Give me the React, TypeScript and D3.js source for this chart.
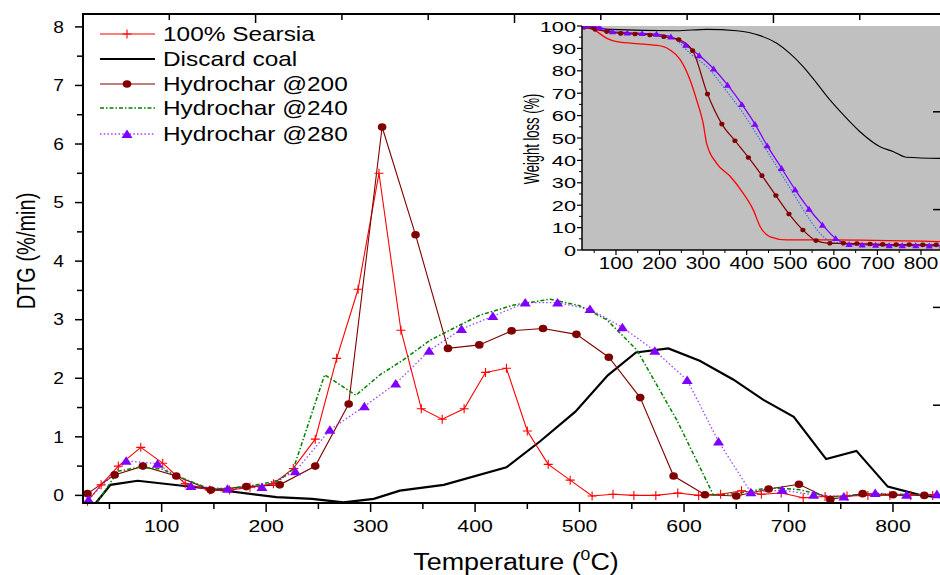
import React from "react";
import * as d3 from "d3";

// ---------- Main DTG data ----------
const searsiaT = [29, 42, 58.5, 80, 101, 122.5, 146, 165, 184.5, 207, 226, 247, 267.5, 288, 308, 329, 348.5, 368.5, 389.5, 410, 430, 450, 470, 491, 512, 532, 552, 573, 594, 614, 635, 655, 674, 693, 714, 735, 756, 776, 797, 817, 838];
const searsiaV = [-0.1, 0.18, 0.5, 0.82, 0.55, 0.2, 0.09, 0.09, 0.14, 0.2, 0.46, 0.96, 2.34, 3.52, 5.5, 2.82, 1.48, 1.3, 1.48, 2.1, 2.17, 1.1, 0.53, 0.26, -0.01, 0.02, 0.0, 0.0, 0.04, 0.0, 0.02, 0.08, 0.02, 0.04, -0.04, -0.02, -0.01, 0.0, 0.0, 0.0, 0.0];

const coalT = [37, 51, 77, 150, 210, 244, 274, 303, 328, 370, 430, 462, 496, 527, 554, 585, 615, 647, 676, 705, 736, 765, 795, 827, 845];
const coalV = [-0.13, 0.18, 0.25, 0.105, -0.03, -0.06, -0.12, -0.06, 0.08, 0.18, 0.48, 0.92, 1.43, 2.05, 2.44, 2.51, 2.3, 1.98, 1.63, 1.34, 0.62, 0.76, 0.15, 0.0, -0.03];

const h200T = [29, 55, 82, 114, 147, 181, 213, 247, 279, 311, 343, 374, 404, 435, 465, 497, 528, 558, 590, 620, 650, 681, 710, 740, 771, 800, 830];
const h200V = [0.03, 0.35, 0.5, 0.33, 0.09, 0.15, 0.18, 0.5, 1.56, 6.29, 4.45, 2.51, 2.57, 2.81, 2.85, 2.75, 2.36, 1.67, 0.33, 0.01, -0.01, 0.11, 0.19, -0.07, 0.03, 0.01, 0.0];

const h240T = [38, 58, 78, 100, 115, 147, 180, 200, 213, 226, 256, 286, 309, 331, 357, 389, 405, 437, 472, 500, 526, 555, 593, 628, 650, 681, 710, 740, 770, 800, 830, 845];
const h240V = [-0.13, 0.41, 0.48, 0.45, 0.33, 0.1, 0.15, 0.21, 0.26, 0.45, 2.06, 1.71, 2.06, 2.31, 2.65, 2.94, 3.08, 3.25, 3.35, 3.24, 3.0, 2.48, 1.29, 0.01, 0.03, 0.13, 0.1, -0.03, 0.02, 0.02, 0.01, 0.01];

const h280T = [30, 66, 96, 128, 163, 196, 228, 261, 294, 324, 356, 387, 417, 448, 479, 510, 541, 572, 603, 633, 664, 694, 724, 753, 783, 813, 842];
const h280V = [-0.07, 0.59, 0.54, 0.16, 0.11, 0.14, 0.41, 1.12, 1.52, 1.91, 2.47, 2.84, 3.06, 3.29, 3.29, 3.18, 2.87, 2.47, 1.97, 0.92, 0.05, 0.09, 0.01, -0.02, 0.04, 0.01, 0.02];

// ---------- Inset TG data ----------
const inSearsiaT = [23, 48, 79, 102, 163, 209, 224, 247, 270, 285, 300, 308, 331, 362, 392, 415, 431, 454, 492, 584, 845];
const inSearsiaW = [100, 98.5, 94.5, 93, 91.9, 90.8, 89.3, 85.1, 75.9, 67, 56.6, 47.6, 38.7, 32.9, 25.3, 17.9, 10.4, 5.9, 4.5, 4.5, 3.7];

const inCoalT = [23, 86, 239, 308, 377, 431, 469, 499, 530, 561, 591, 622, 660, 706, 737, 767, 845];
const inCoalW = [100, 98.5, 97.9, 98.5, 97.9, 95.7, 92.3, 87.8, 81.8, 74.4, 67, 60.3, 52.8, 46.1, 43.9, 41.4, 40.9];

const in200T = [27, 52, 79, 111, 144, 178, 210, 244, 276, 310, 343, 373, 404, 435, 467, 497, 529, 559, 591, 622, 653, 683, 712, 743, 773, 804, 835];
const in200W = [99.4, 98.5, 97.5, 96.7, 96.4, 96, 95.2, 94, 89, 69.6, 56.2, 48.8, 41.3, 33.2, 24.3, 16.1, 8.9, 4.2, 3.0, 3.0, 2.9, 2.7, 2.5, 2.4, 2.4, 2.3, 2.3];

const in240T = [23, 80, 150, 200, 232, 270, 316, 346, 392, 431, 469, 507, 545, 576, 607, 650, 700, 760, 845];
const in240W = [100, 97.5, 96.5, 96, 94.5, 87.8, 80.4, 72.9, 61, 49.1, 37.2, 25.3, 13.4, 5.9, 3.3, 2.7, 2.4, 2.2, 2.1];

const in280T = [27, 62, 92, 126, 160, 193, 226, 260, 291, 324, 356, 389, 419, 447, 480, 511, 543, 574, 604, 635, 665, 696, 727, 757, 788, 819, 849];
const in280W = [100, 99.4, 97.5, 97, 96.7, 96.4, 95.2, 91.5, 86.8, 80.9, 73.7, 65, 56.2, 46.6, 36.5, 27, 18.3, 11.2, 5.2, 2.5, 2.3, 2.2, 2.0, 2.0, 2.0, 1.9, 1.9];

// ---------- Ticks / labels ----------
const xTickLabels = [100, 200, 300, 400, 500, 600, 700, 800];
const xMinorTicks = [50, 150, 250, 350, 450, 550, 650, 750];
const yTickLabels = [0, 1, 2, 3, 4, 5, 6, 7, 8];
const yMinorTicks = [0.5, 1.5, 2.5, 3.5, 4.5, 5.5, 6.5, 7.5];
const insetXTicks = [100, 200, 300, 400, 500, 600, 700, 800];
const insetYTicks = [0, 10, 20, 30, 40, 50, 60, 70, 80, 90, 100];
const topTicks = [1, 2, 3, 4, 5, 6, 7, 8, 9];
const rightTicks = [1, 2, 3, 4];

const legendLabels = ["100% Searsia", "Discard coal", "Hydrochar @200", "Hydrochar @240", "Hydrochar @280"];

const RED = "#ff0000";
const DARK = "#800000";
const GREEN = "#008000";
const PURPLE = "#8000ff";
const BLUE = "#3366ff";
const FONT = "'Liberation Sans', Arial, sans-serif";

const zip = (a: number[], b: number[]) => a.map((t, i) => [t, b[i]] as [number, number]);

const xMain = d3.scaleLinear().domain([24.7, 845]).range([83, 940]);
const yMain = d3.scaleLinear().domain([-0.13, 8.22]).range([503, 14]);
const xIn = d3.scaleLinear().domain([22, 843.6]).range([582, 940]);
const yIn = d3.scaleLinear().domain([0, 100]).range([250, 26]);
const topScale = d3.scaleLinear().domain([0, 9.93]).range([83, 940]);
const rightScale = d3.scaleLinear().domain([0, 5]).range([503, 14]);

const mainLine = d3.line<[number, number]>().x((d) => xMain(d[0])).y((d) => yMain(d[1]));
const inLine = d3
  .line<[number, number]>()
  .x((d) => xIn(d[0]))
  .y((d) => yIn(d[1]))
  .curve(d3.curveMonotoneX);

function ST(props: any) {
  const { x, y, sx = 1.22, anchor = "start", size = 16, rotate, children } = props;
  const tr = `translate(${x},${y}) scale(${sx},1)` + (rotate ? ` rotate(${rotate})` : "");
  return (
    <text transform={tr} textAnchor={anchor} fontSize={size} fontFamily={FONT} fill="#000">
      {children}
    </text>
  );
}

const Plus = ({ x, y, s = 4.5 }: any) => (
  <path d={`M${x - s},${y}H${x + s}M${x},${y - s}V${y + s}`} stroke={RED} strokeWidth={1.1} fill="none" />
);
const Dot = ({ x, y, rx = 4.3, ry = 3.8 }: any) => <ellipse cx={x} cy={y} rx={rx} ry={ry} fill={DARK} />;
const Tri = ({ x, y, w = 5.5, h = 4.6 }: any) => (
  <path d={`M${x},${y - h}L${x + w},${y + h * 0.85}L${x - w},${y + h * 0.85}Z`} fill={PURPLE} />
);

export default function App() {
  const sears = zip(searsiaT, searsiaV);
  const coal = zip(coalT, coalV);
  const h200 = zip(h200T, h200V);
  const h240 = zip(h240T, h240V);
  const h280 = zip(h280T, h280V);

  const legendRows = [34, 59, 84, 108, 134];

  return (
    <svg
      width={940}
      height={575}
      style={{ position: "absolute", left: 0, top: 0, background: "#fff" }}
    >
      <defs>
        <clipPath id="mainClip">
          <rect x={83} y={14} width={857} height={489} />
        </clipPath>
        <clipPath id="insetClip">
          <rect x={582} y={26} width={358} height={224} />
        </clipPath>
      </defs>
      <rect x={0} y={0} width={940} height={575} fill="#fff" />

      {/* Main series */}
      <g clipPath="url(#mainClip)" fill="none">
        <path d={mainLine(coal) || ""} stroke="#000" strokeWidth={2.2} />
        <path d={mainLine(sears) || ""} stroke={RED} strokeWidth={1.1} />
        <path d={mainLine(h200) || ""} stroke={DARK} strokeWidth={1.1} />
        <path d={mainLine(h240) || ""} stroke={GREEN} strokeWidth={1.5} strokeDasharray="4,2,1.5,2" />
        <path d={mainLine(h280) || ""} stroke={PURPLE} strokeWidth={1.3} strokeDasharray="1.5,2.2" opacity={0.75} />
      </g>
      <g>
        {sears.map((d, i) => (
          <Plus key={"s" + i} x={xMain(d[0])} y={yMain(d[1])} />
        ))}
        {h200.map((d, i) => (
          <Dot key={"c" + i} x={xMain(d[0])} y={yMain(d[1])} />
        ))}
        {h280.map((d, i) => (
          <Tri key={"t" + i} x={xMain(d[0])} y={yMain(d[1])} />
        ))}
      </g>

      {/* Inset */}
      <rect x={582} y={26} width={358} height={224} fill="#c0c0c0" />
      <g clipPath="url(#insetClip)" fill="none">
        <path d={inLine(zip(inCoalT, inCoalW)) || ""} stroke="#000" strokeWidth={1.1} />
        <path d={inLine(zip(inSearsiaT, inSearsiaW)) || ""} stroke={RED} strokeWidth={1.3} />
        <path d={inLine(zip(in240T, in240W)) || ""} stroke={BLUE} strokeWidth={1.1} strokeDasharray="1.5,1.5" />
        <path d={inLine(zip(in280T, in280W)) || ""} stroke={PURPLE} strokeWidth={1.3} />
        <path d={inLine(zip(in200T, in200W)) || ""} stroke={DARK} strokeWidth={1.2} />
        {zip(in200T, in200W).map((d, i) => (
          <Dot key={"ic" + i} x={xIn(d[0])} y={yIn(d[1])} rx={2.6} ry={2.3} />
        ))}
        {zip(in280T, in280W).map((d, i) => (
          <Tri key={"it" + i} x={xIn(d[0])} y={yIn(d[1])} w={3.6} h={3.2} />
        ))}
      </g>
      {/* Inset axes */}
      <line x1={582} y1={26} x2={582} y2={250} stroke="#000" strokeWidth={1.5} />
      <line x1={582} y1={250} x2={940} y2={250} stroke="#000" strokeWidth={1.5} />
      {insetYTicks.map((v) => (
        <g key={"iy" + v}>
          <line x1={577} x2={582} y1={yIn(v)} y2={yIn(v)} stroke="#000" strokeWidth={1.2} />
          {v < 100 && (
            <line x1={579} x2={582} y1={yIn(v + 5)} y2={yIn(v + 5)} stroke="#000" strokeWidth={1} />
          )}
          <ST x={576} y={yIn(v) + 5.5} anchor="end" size={15} sx={1.45}>
            {v}
          </ST>
        </g>
      ))}
      {insetXTicks.map((v) => (
        <g key={"ix" + v}>
          <line x1={xIn(v)} x2={xIn(v)} y1={250} y2={255} stroke="#000" strokeWidth={1.2} />
          <line x1={xIn(v - 50)} x2={xIn(v - 50)} y1={250} y2={253} stroke="#000" strokeWidth={1} />
          <ST x={xIn(v)} y={269} anchor="middle" size={17} sx={1.22}>
            {v}
          </ST>
        </g>
      ))}
      <ST x={539} y={139} anchor="middle" size={13} sx={1.7} rotate={-90}>
        Weight loss (%)
      </ST>

      {/* Main axes */}
      <line x1={83} y1={13} x2={83} y2={504} stroke="#000" strokeWidth={2} />
      <line x1={82} y1={503} x2={940} y2={503} stroke="#000" strokeWidth={2} />
      <line x1={82} y1={14} x2={940} y2={14} stroke="#000" strokeWidth={2} />
      {topTicks.map((v) => (
        <line key={"tt" + v} x1={topScale(v)} x2={topScale(v)} y1={14} y2={v % 3 === 2 ? 23 : 20} stroke="#000" strokeWidth={1.5} />
      ))}
      {rightTicks.map((v) => (
        <line key={"rt" + v} x1={933} x2={940} y1={rightScale(v)} y2={rightScale(v)} stroke="#000" strokeWidth={1.5} />
      ))}
      {yTickLabels.map((v) => (
        <g key={"y" + v}>
          <line x1={75} x2={83} y1={yMain(v)} y2={yMain(v)} stroke="#000" strokeWidth={1.5} />
          <ST x={64} y={yMain(v) + 5.8} anchor="end" size={16} sx={1.2}>
            {v}
          </ST>
        </g>
      ))}
      {yMinorTicks.map((v) => (
        <line key={"ym" + v} x1={77} x2={83} y1={yMain(v)} y2={yMain(v)} stroke="#000" strokeWidth={1.5} />
      ))}
      {xTickLabels.map((v) => (
        <g key={"x" + v}>
          <line x1={xMain(v)} x2={xMain(v)} y1={503} y2={512} stroke="#000" strokeWidth={1.5} />
          <ST x={xMain(v)} y={532} anchor="middle" size={17} sx={1.25}>
            {v}
          </ST>
        </g>
      ))}
      {xMinorTicks.map((v) => (
        <line key={"xm" + v} x1={xMain(v)} x2={xMain(v)} y1={503} y2={509} stroke="#000" strokeWidth={1.5} />
      ))}

      {/* Axis titles */}
      <text transform="translate(516,570) scale(1.17,1)" textAnchor="middle" fontSize={23} fontFamily={FONT}>
        Temperature (
        <tspan fontSize={15} dy={-10}>
          0
        </tspan>
        <tspan dy={10}>C)</tspan>
      </text>
      <ST x={35} y={251} anchor="middle" size={20} sx={1.3} rotate={-90}>
        DTG (%/min)
      </ST>

      {/* Legend */}
      <g>
        <line x1={100} x2={155} y1={legendRows[0]} y2={legendRows[0]} stroke={RED} strokeWidth={1.1} />
        <Plus x={127} y={legendRows[0]} />
        <line x1={100} x2={155} y1={legendRows[1]} y2={legendRows[1]} stroke="#000" strokeWidth={2} />
        <line x1={100} x2={155} y1={legendRows[2]} y2={legendRows[2]} stroke={DARK} strokeWidth={1.1} />
        <Dot x={127} y={legendRows[2]} />
        <line x1={100} x2={155} y1={legendRows[3]} y2={legendRows[3]} stroke={GREEN} strokeWidth={1.5} strokeDasharray="4,2,1.5,2" />
        <line x1={100} x2={155} y1={legendRows[4]} y2={legendRows[4]} stroke={PURPLE} strokeWidth={1.3} strokeDasharray="1.5,2.2" opacity={0.75} />
        <Tri x={127} y={legendRows[4]} />
        {legendLabels.map((l, i) => (
          <ST key={l} x={163} y={legendRows[i] + 7} size={20} sx={1.22}>
            {l}
          </ST>
        ))}
      </g>
    </svg>
  );
}
